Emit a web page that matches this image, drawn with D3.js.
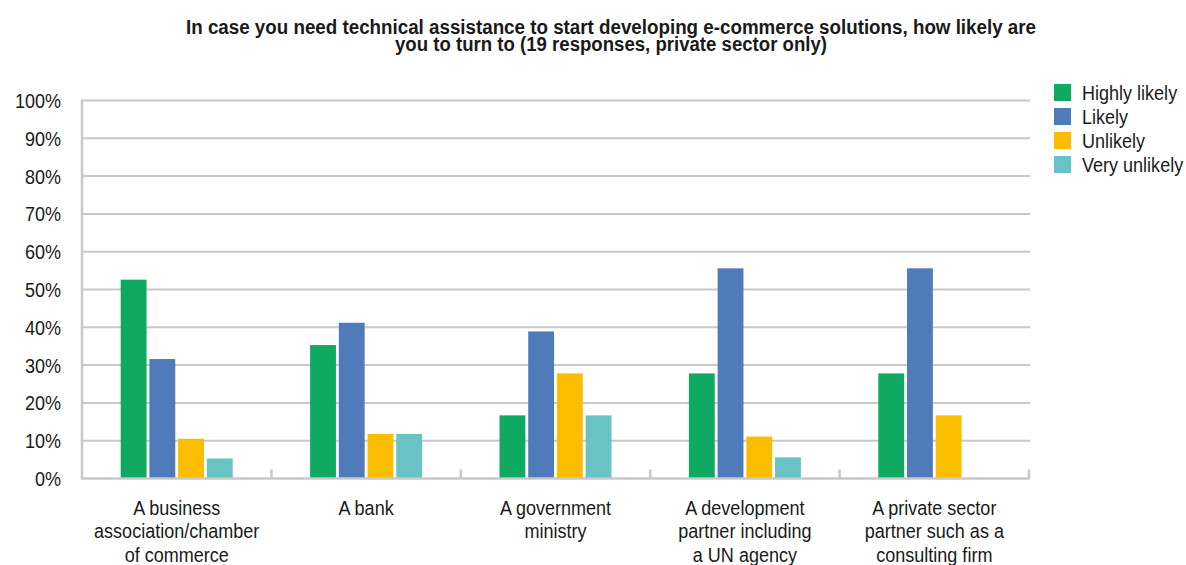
<!DOCTYPE html>
<html>
<head>
<meta charset="utf-8">
<script src="https://cdn.jsdelivr.net/npm/d3@7"></script>
<style>
  html, body { margin: 0; padding: 0; background: #fff; }
  svg { display: block; }
  text { font-family: "Liberation Sans", Arial, sans-serif; fill: #1a1a1a; }
</style>
</head>
<body>
<svg id="chart" width="1186" height="565"></svg>
<script>
// Survey answers per source of technical assistance (share of responses, %)
const categoryLines = [
  ["A business", "association/chamber", "of commerce"],
  ["A bank"],
  ["A government", "ministry"],
  ["A development", "partner including", "a UN agency"],
  ["A private sector", "partner such as a", "consulting firm"]
];
const seriesNames = ["Highly likely", "Likely", "Unlikely", "Very unlikely"];
const highlyLikely = [52.6, 35.3, 16.7, 27.8, 27.8];
const likely       = [31.6, 41.2, 38.9, 55.6, 55.6];
const unlikely     = [10.5, 11.8, 27.8, 11.1, 16.7];
const veryUnlikely = [5.3, 11.8, 16.7, 5.6, 0];
const yTicks = [0, 10, 20, 30, 40, 50, 60, 70, 80, 90, 100];
const titleLines = [
  "In case you need technical assistance to start developing e-commerce solutions, how likely are",
  "you to turn to (19 responses, private sector only)"
];

const colors = ["#0fa962", "#4f7bbb", "#fbbd00", "#69c3c4"];
const seriesValues = [highlyLikely, likely, unlikely, veryUnlikely];
const categories = categoryLines.map(l => l.join(" "));

const svg = d3.select("#chart");
const gridColor = "#c8c8c8";
// narrow text: slightly larger glyphs squeezed horizontally
const labelSize = 19.5;
const squeeze = 0.925;

const x0 = d3.scaleBand().domain(categories).range([82, 1029]).padding(0);
const bw = x0.bandwidth();
const groupHalf = 56;
const x1 = d3.scaleBand().domain(seriesNames)
  .range([bw / 2 - groupHalf, bw / 2 + groupHalf]).paddingInner(0.1).paddingOuter(0);
const y = d3.scaleLinear().domain([0, 100]).range([478.5, 100.5]);

// Title (condensed bold)
const titleWidths = [850, 432];
titleLines.forEach((t, i) => {
  const tx = svg.append("text")
    .attr("x", 611).attr("y", 34 + i * 17)
    .attr("text-anchor", "middle")
    .style("font-weight", "bold").style("font-size", "20px")
    .text(t);
  tx.attr("textLength", titleWidths[i]).attr("lengthAdjust", "spacingAndGlyphs");
});

// Horizontal gridlines
svg.append("g").selectAll("line").data(yTicks.filter(d => d > 0)).join("line")
  .attr("x1", 82).attr("x2", 1030)
  .attr("y1", d => y(d)).attr("y2", d => y(d))
  .attr("stroke", gridColor).attr("stroke-width", 2);

// Y axis labels
const yAxis = d3.axisLeft(y).tickValues(yTicks).tickFormat(d => d + "%").tickSize(0).tickPadding(0);
const gy = svg.append("g").attr("transform", "translate(61,0)").call(yAxis);
gy.select(".domain").remove();
gy.selectAll("text").style("font-size", labelSize + "px").attr("fill", "#1a1a1a")
  .style("font-family", "'Liberation Sans', Arial, sans-serif")
  .attr("x", 0).attr("dy", "0.36em").attr("transform", `scale(${squeeze},1)`);

// Bars
const groups = svg.append("g").selectAll("g").data(categories).join("g")
  .attr("transform", d => `translate(${x0(d)},0)`);
groups.selectAll("rect")
  .data((d, ci) => seriesNames.map((s, si) => ({ s, v: seriesValues[si][ci], c: colors[si] })))
  .join("rect")
  .attr("x", d => x1(d.s))
  .attr("width", x1.bandwidth())
  .attr("y", d => y(d.v))
  .attr("height", d => y(0) - y(d.v))
  .attr("fill", d => d.c);

// Left axis line and baseline with category boundary ticks
svg.append("line").attr("x1", 82).attr("x2", 82).attr("y1", y(100) - 1).attr("y2", y(0) + 1)
  .attr("stroke", gridColor).attr("stroke-width", 2.5);
svg.append("line").attr("x1", 81).attr("x2", 1030).attr("y1", y(0)).attr("y2", y(0))
  .attr("stroke", gridColor).attr("stroke-width", 2.5);
const bounds = categories.map(c => x0(c)).concat([x0.range()[1]]);
svg.append("g").selectAll("line").data(bounds.slice(1)).join("line")
  .attr("x1", d => d).attr("x2", d => d)
  .attr("y1", y(0) - 9).attr("y2", y(0))
  .attr("stroke", gridColor).attr("stroke-width", 2.5);

// Category labels
const labelGroups = svg.append("g").selectAll("g").data(categories).join("g")
  .attr("transform", d => `translate(${x0(d) + bw / 2},0) scale(${squeeze},1)`);
labelGroups.each(function(d, i) {
  d3.select(this).selectAll("text").data(categoryLines[i]).join("text")
    .attr("text-anchor", "middle")
    .attr("x", 0)
    .attr("y", (l, j) => 515 + j * 23.5)
    .style("font-size", labelSize + "px")
    .text(l => l);
});

// Legend
const legend = svg.append("g").attr("transform", "translate(1054,84)");
seriesNames.forEach((s, i) => {
  const row = legend.append("g").attr("transform", `translate(0,${i * 24})`);
  row.append("rect").attr("width", 17).attr("height", 17).attr("fill", colors[i]);
  row.append("text").attr("transform", `translate(28,15.5) scale(${squeeze},1)`)
    .style("font-size", labelSize + "px").text(s);
});
</script>
</body>
</html>
